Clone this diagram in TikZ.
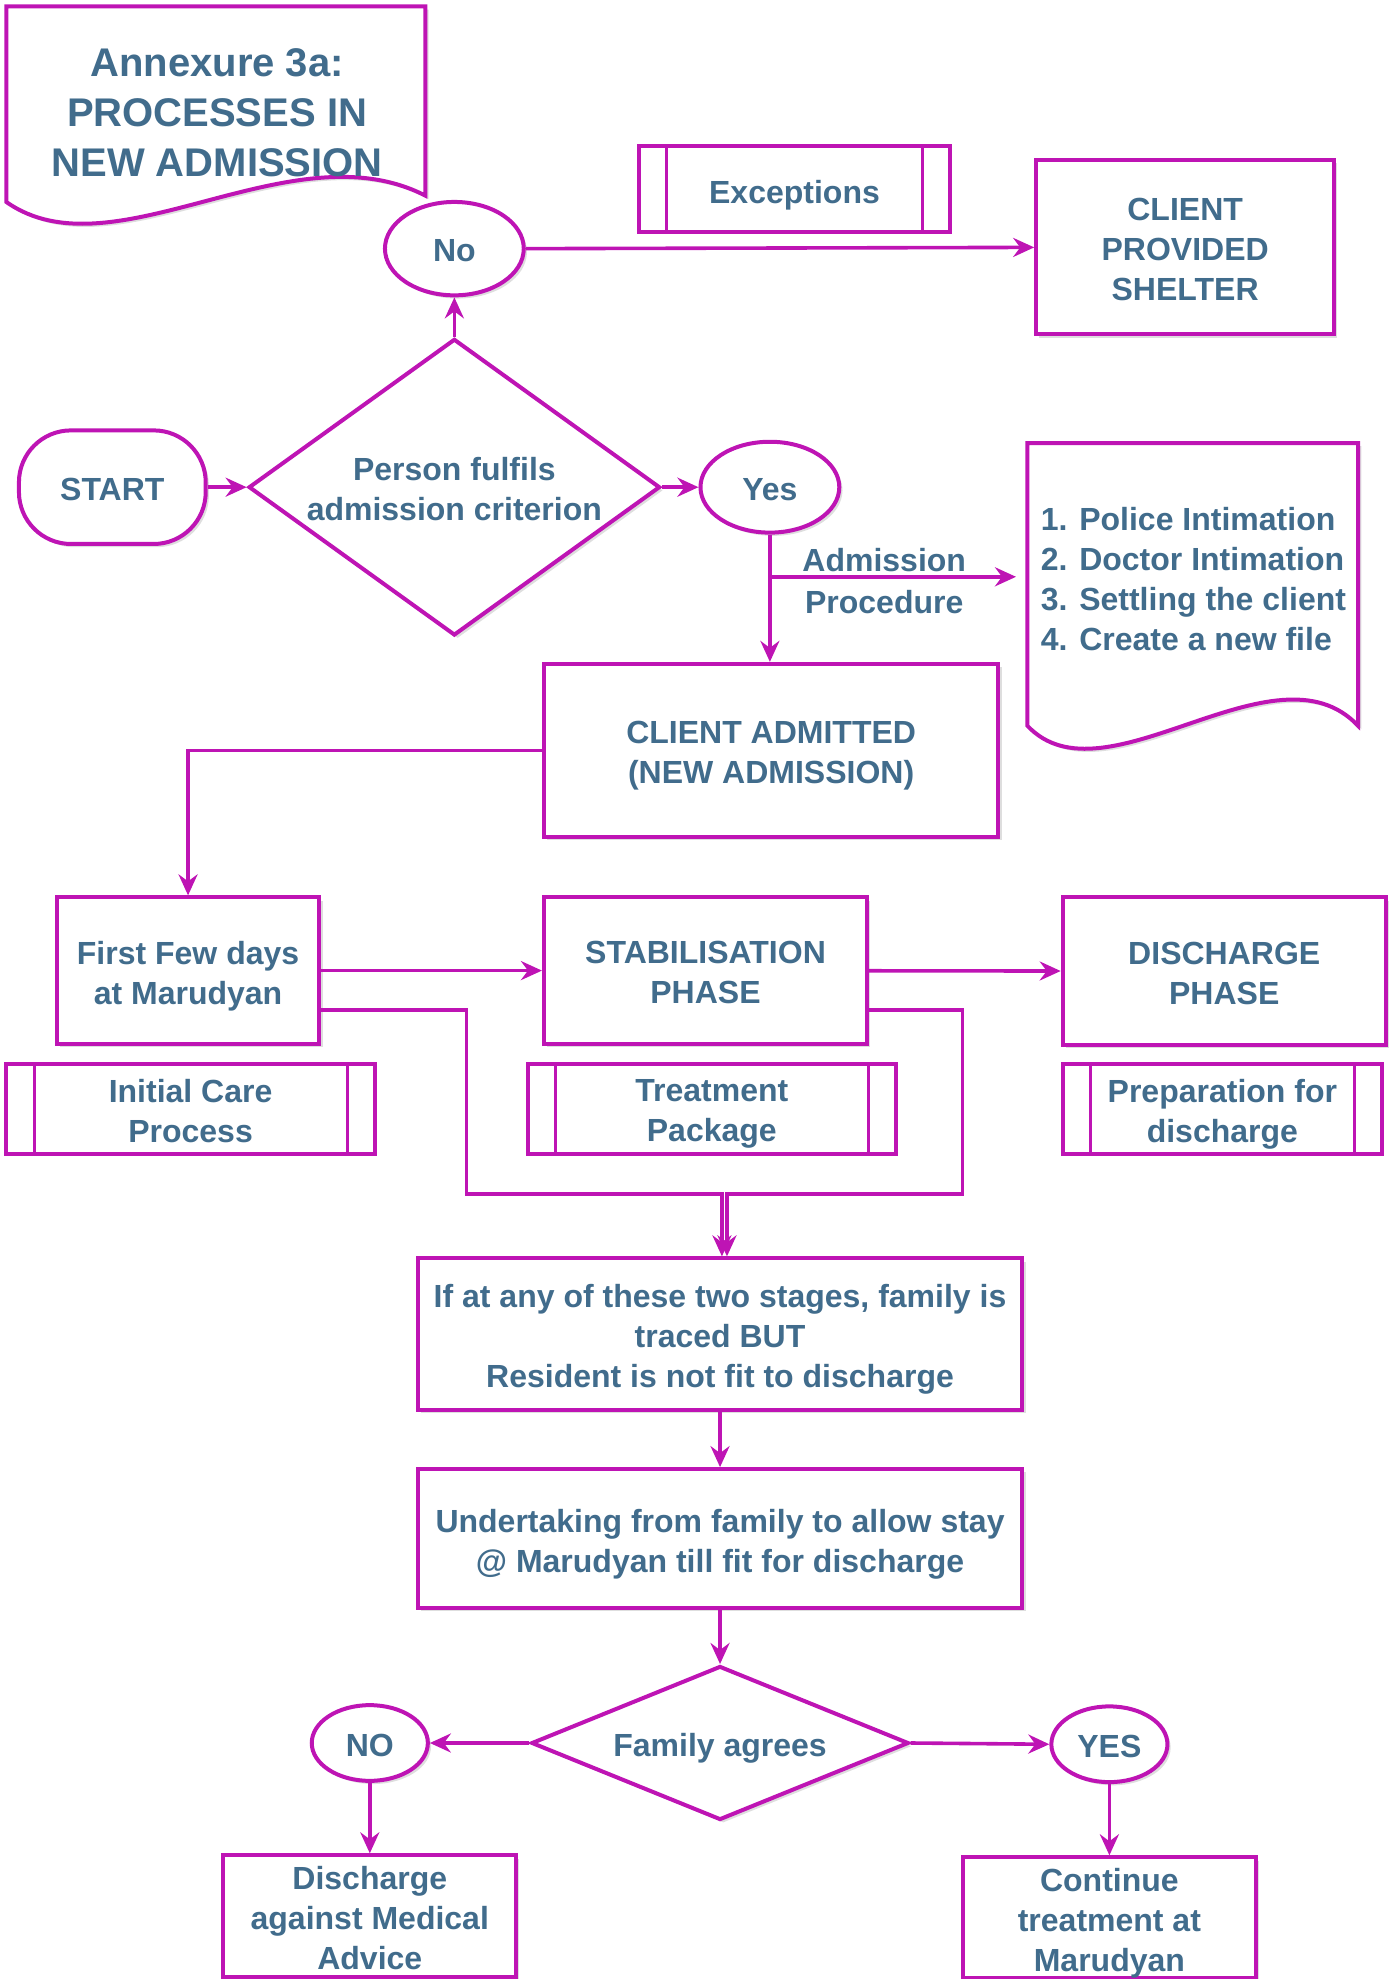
\documentclass[tikz,border=0pt]{standalone}
\usepackage{fontspec}
\setmainfont{Liberation Sans}
\usetikzlibrary{arrows.meta,shapes.geometric,shadows}
\definecolor{flowline}{RGB}{190,20,180}
\definecolor{flowtext}{RGB}{65,108,140}
\newbox\flowtextbox
\tikzset{
	txt/.style={text=flowtext,font=\bfseries\fontsize{16}{20}\selectfont,align=center},
	plain/.style={txt,draw=flowline,line width=2pt,fill=white,inner sep=0pt,
		execute at begin node={\setbox\flowtextbox\hbox\bgroup},
		execute at end node={\egroup\rule[-3.4pt]{0pt}{\dimexpr\ht\flowtextbox+8.9pt\relax}\box\flowtextbox}},
	base/.style={plain,drop shadow={shadow xshift=1.6pt,shadow yshift=-1.6pt,fill=black!13,opacity=1}},
	wh/.style 2 args={minimum width=#1*0.631pt,minimum height=#2*0.631pt},
	box/.style={base,rectangle},
	term/.style={base,rectangle,rounded corners=26pt},
	oval/.style={base,ellipse},
	decide/.style={base,diamond},
	subproc/.style={plain,rectangle,path picture={
		\draw[flowline,line width=1.5pt] ([xshift=13.9pt]path picture bounding box.north west) -- ([xshift=13.9pt]path picture bounding box.south west)
		([xshift=-13.9pt]path picture bounding box.north east) -- ([xshift=-13.9pt]path picture bounding box.south east);}},
	flow/.style={draw=flowline,line width=1.8pt,->}
}
\begin{document}
\begin{tikzpicture}[x=0.631pt,y=-0.631pt,>={Stealth[length=10.5pt,width=9.5pt,inset=3.5pt]}]
	\useasboundingbox (0,0) rectangle (1107,1568);
	\draw[base] (5,5) -- (337,5) -- (337,155) .. controls (230,100) and (90,220) .. (5,160) -- cycle;
	\node[txt,font=\bfseries\fontsize{20}{25}\selectfont] (title) at (172,89.5) {Annexure 3a:\\PROCESSES IN\\NEW ADMISSION};
	\draw[base] (814,351) -- (1076,351) -- (1076,575) .. controls (1010,505) and (875,640) .. (814,575) -- cycle;
	\node[txt,align=left,anchor=west] (steps) at (819,459) {1. Police Intimation\\2. Doctor Intimation\\3. Settling the client\\4. Create a new file};
	\node[subproc,wh={247}{68}] (exc) at (629.5,150) {Exceptions};
	\node[box,wh={236}{138}] (shelter) at (939,196) {CLIENT\\PROVIDED\\SHELTER};
	\node[oval,wh={110}{74}] (no) at (360,197) {No};
	\node[decide,aspect=1.39,wh={326}{235}] (crit) at (360,386) {Person fulfils\\admission criterion};
	\node[term,wh={148}{90}] (start) at (89,386) {START};
	\node[oval,wh={110}{72}] (yes) at (610,386) {Yes};
	\node[box,wh={360}{137}] (admit) at (611,594.5) {CLIENT ADMITTED\\(NEW ADMISSION)};
	\node[box,wh={208}{116}] (first) at (149,769) {First Few days\\at Marudyan};
	\node[box,wh={256}{116}] (stab) at (559,769) {STABILISATION\\PHASE};
	\node[box,wh={256}{117}] (disch) at (970,769.5) {DISCHARGE\\PHASE};
	\node[subproc,wh={292}{71}] (icp) at (151,878.5) {Initial Care\\Process};
	\node[subproc,wh={292}{71}] (tp) at (564,878.5) {Treatment\\Package};
	\node[subproc,wh={253}{71}] (prep) at (968.5,878.5) {Preparation for\\discharge};
	\node[box,wh={479}{120}] (ifbox) at (570.5,1057) {If at any of these two stages, family is\\traced BUT\\Resident is not fit to discharge};
	\node[box,wh={479}{110}] (under) at (570.5,1219) {Undertaking from family to allow stay\\@ Marudyan till fit for discharge};
	\node[decide,aspect=2.45,wh={299}{122}] (fam) at (570.5,1381) {Family agrees};
	\node[oval,wh={92}{60}] (NO) at (293,1381) {NO};
	\node[oval,wh={92}{60}] (YES) at (879,1382) {YES};
	\node[box,wh={232}{96}] (dama) at (293,1518) {Discharge\\against Medical\\Advice};
	\node[box,wh={232}{93}] (cont) at (879,1519.5) {Continue\\treatment at\\Marudyan};
	\coordinate (apstart) at (612,457);
	\coordinate (apend) at (805,457);
	\coordinate (jl) at (572,946);
	\coordinate (jr) at (576,946);
	\draw[flow] (crit.north) -- (no.south);
	\draw[flow] (no.east) -- (shelter.west);
	\draw[flow] (start.east) -- (crit.west);
	\draw[flow] (crit.east) -- (yes.west);
	\draw[flow] (yes.south) -- (yes.south |- admit.north);
	\draw[flow] (apstart) -- node[txt,above,inner sep=1.5pt,xshift=-5pt]{Admission} node[txt,below,inner sep=6pt,xshift=-5pt]{Procedure} (apend);
	\draw[flow] (admit.west) -| (first.north);
	\draw[flow] (first) -- (stab);
	\draw[flow] (stab) -- (disch);
	\draw[flow] ([yshift=-19.6pt]first.east) -- ++(115,0) |- (jl) -- (jl |- ifbox.north);
	\draw[flow] ([yshift=-19.6pt]stab.east) -- ++(74,0) |- (jr) -- (jr |- ifbox.north);
	\draw[flow] (ifbox) -- (under);
	\draw[flow] (under.south) -- (fam.north);
	\draw[flow] (fam.west) -- (NO.east);
	\draw[flow] (fam.east) -- (YES.west);
	\draw[flow] (NO.south) -- (dama.north);
	\draw[flow] (YES.south) -- (cont.north);
\end{tikzpicture}
\end{document}
